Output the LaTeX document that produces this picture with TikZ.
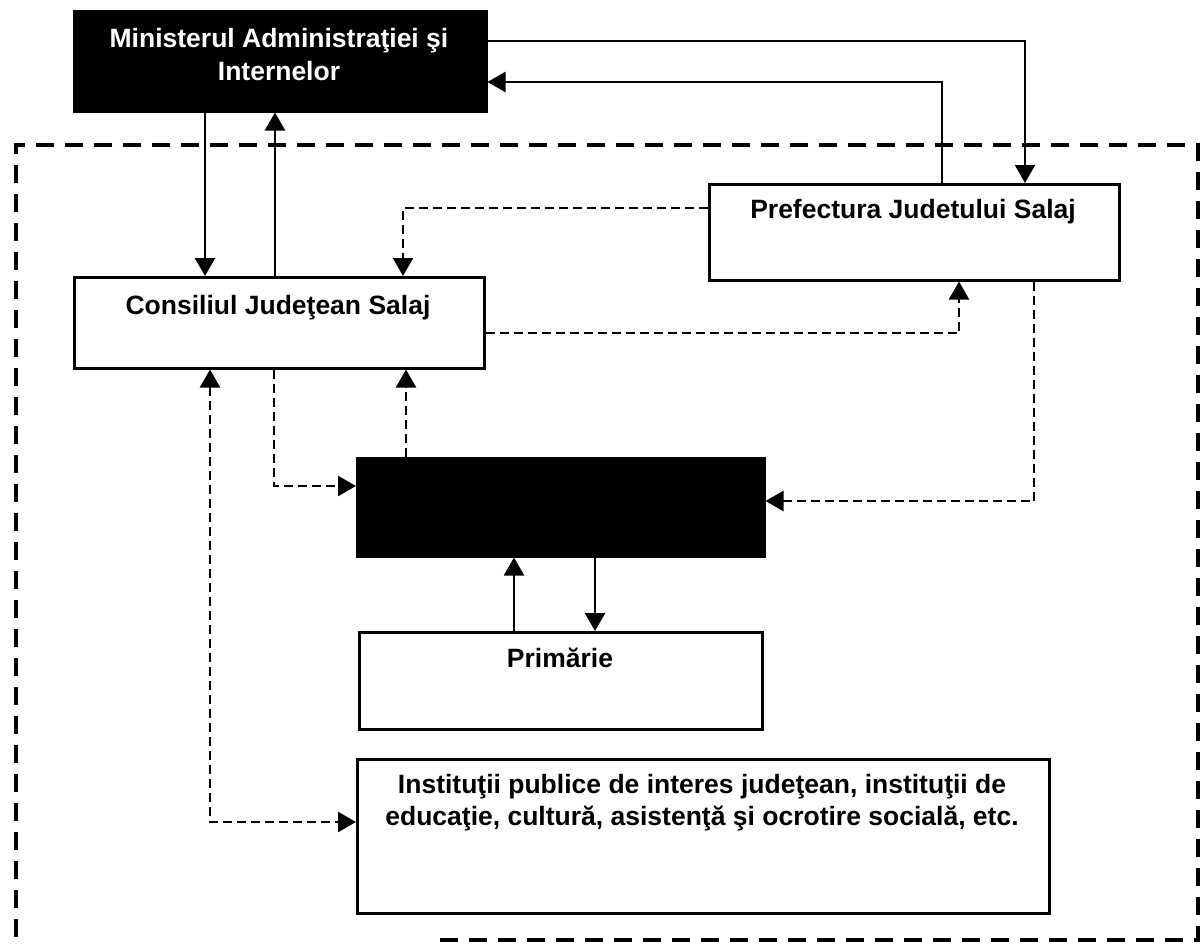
\documentclass[tikz,border=0pt]{standalone}
\usepackage{fontspec}
\setmainfont{Liberation Sans}
\usetikzlibrary{arrows.meta}
\begin{document}
\begin{tikzpicture}[x=1pt,y=-1pt,
  box/.style={draw, line width=2.5pt, fill=white, anchor=north west, inner sep=0pt},
  blackbox/.style={box, fill=black},
  lbl/.style={font=\bfseries\fontsize{26.5}{32}\selectfont, inner sep=0pt, anchor=base},
  arr/.style={-{Triangle[length=18pt,width=20pt]}, line width=2.6pt},
  thinarr/.style={arr, line width=1.8pt},
  darr/.style={arr, line width=2.4pt, dash pattern=on 9pt off 5pt},
  ddarr/.style={darr, {Triangle[length=18pt,width=20pt]}-{Triangle[length=18pt,width=20pt]}},
  frame/.style={line width=3.8pt, dash pattern=on 18pt off 11pt}
]
\fill[white] (0,0) rectangle (1200,946);
\useasboundingbox (0,0) rectangle (1200,946);

% outer dashed boundary
\draw[frame] (440,940) -- (1198,940) -- (1198,145) -- (16,145) -- (16,940);

% boxes
\node[blackbox, minimum width=412pt, minimum height=100pt] (top) at (73,10) {};
\node[box, minimum width=410pt, minimum height=91pt] (cj) at (73,276) {};
\node[box, minimum width=410pt, minimum height=96pt] (pref) at (708,183) {};
\node[blackbox, minimum width=407pt, minimum height=98pt] (mid) at (356,457) {};
\node[box, minimum width=403pt, minimum height=97pt] (prim) at (358,631) {};
\node[box, minimum width=692pt, minimum height=154pt] (inst) at (356,758) {};

% texts
\node[lbl, text=white] (topt1) at (279,47) {Ministerul Administraţiei şi};
\node[lbl, text=white] (topt2) at (279,80) {Internelor};
\node[lbl] (cjt) at (278,314) {Consiliul Judeţean Salaj};
\node[lbl] (preft) at (913,218) {Prefectura Judetului Salaj};
\node[lbl] (primt) at (560,667) {Primărie};
\node[lbl] (inst1) at (702,793) {Instituţii publice de interes judeţean, instituţii de};
\node[lbl] (inst2) at (702,825) {educaţie, cultură, asistenţă şi ocrotire socială, etc.};

% solid connectors
\draw[thinarr] (top.east |- 0,41) -| (pref.north -| 1025,0);
\draw[arr, line width=2.2pt] (pref.north -| 942,0) |- (top.east |- 0,82);
\draw[arr] (top.south -| 205,0) -- (cj.north -| 205,0);
\draw[arr] (cj.north -| 275,0) -- (top.south -| 275,0);
\draw[thinarr] (prim.north -| 514,0) -- (mid.south -| 514,0);
\draw[arr] (mid.south -| 595,0) -- (prim.north -| 595,0);

% dashed connectors
\draw[darr] (pref.west |- 0,208) -| (cj.north -| 403,0);
\draw[darr] (cj.east |- 0,333) -| (pref.south -| 959,0);
\draw[darr] (pref.south -| 1034,0) |- (mid.east |- 0,501);
\draw[darr] (cj.south -| 274,0) |- (mid.west |- 0,486);
\draw[darr] (mid.north -| 406,0) -- (cj.south -| 406,0);
\draw[ddarr] (cj.south -| 210,0) |- (inst.west |- 0,822);
\end{tikzpicture}
\end{document}
